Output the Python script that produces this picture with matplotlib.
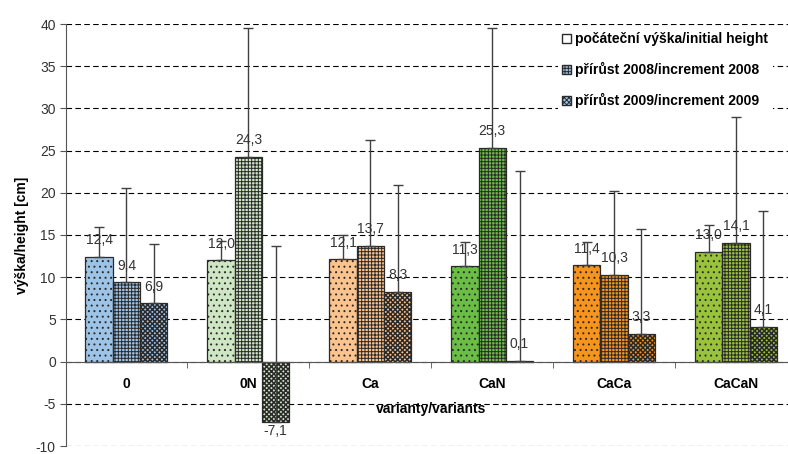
import numpy as np
import matplotlib
matplotlib.use("Agg")
import matplotlib.pyplot as plt
from matplotlib.patches import Patch

plt.rcParams['font.family'] = ['Liberation Sans', 'DejaVu Sans']
plt.rcParams['axes.unicode_minus'] = False

# data
variants = ["0", "0N", "Ca", "CaN", "CaCa", "CaCaN"]
initial_height = [12.4, 12.0, 12.1, 11.3, 11.4, 13.0]
increment_2008 = [9.4, 24.3, 13.7, 25.3, 10.3, 14.1]
increment_2009 = [6.9, -7.1, 8.3, 0.1, 3.3, 4.1]
err_initial = [3.5, 2.3, 2.9, 2.9, 2.8, 3.2]
err_2008 = [11.2, 15.2, 12.6, 14.2, 9.9, 14.9]
err_2009 = [7.0, 20.8, 12.6, 22.5, 12.4, 13.8]
series_names = ["počáteční výška/initial height",
                "přírůst 2008/increment 2008",
                "přírůst 2009/increment 2009"]

group_colors = ["#9DC3E6", "#CFE6C4", "#FBC38E", "#6BBE45", "#F7941D", "#9AC33C"]
hatches = ["...", "+++++", "xxxxxxx"]
hatch_lw = [0.7, 0.7, 1.1]
FS = 10

fig = plt.figure(figsize=(7.88, 4.54), dpi=100)
ax = fig.add_axes([65.5/788, 8/454, (797-65.5)/788, 422/454])

x = np.arange(len(variants))
w = 0.224
series = [initial_height, increment_2008, increment_2009]
errs = [err_initial, err_2008, err_2009]

for i, (vals, err) in enumerate(zip(series, errs)):
    xs = x + (i - 1) * w
    plt.rcParams['hatch.linewidth'] = hatch_lw[i]
    ax.bar(xs, vals, w, color=group_colors, edgecolor="#2a2a2a",
           linewidth=0.9, hatch=hatches[i], zorder=2)
    ax.errorbar(xs, vals, yerr=[np.zeros(len(vals)), err], fmt="none",
                ecolor="#404040", elinewidth=1, capsize=3.5, capthick=1, zorder=3)
    for xi, v in zip(xs, vals):
        lbl = f"{v:.1f}".replace(".", ",")
        off = 12 if v >= 0 else -7
        ax.annotate(lbl, (xi, v), xytext=(0, off), textcoords="offset points",
                    ha="center", va="center", fontsize=FS, color="#333333", zorder=4)

ax.set_xlim(-0.5, 5.5)
ax.set_ylim(-10, 40)
ax.set_yticks(np.arange(-10, 41, 5))
ax.yaxis.grid(True, linestyle=(0, (5, 3)), color="black", linewidth=0.8, zorder=0)

ax.spines["top"].set_visible(False)
ax.spines["right"].set_visible(False)
ax.spines["bottom"].set_position(("data", 0))
ax.spines["bottom"].set_color("#555555")
ax.spines["left"].set_color("#555555")
ax.spines["bottom"].set_zorder(3)

ax.set_xticks(x)
ax.set_xticklabels(variants, fontweight="bold", fontsize=FS)
ax.set_xticks(np.arange(-0.5, 6.0, 1), minor=True)
ax.tick_params(axis="x", which="major", length=0, pad=11)
ax.tick_params(axis="x", which="minor", length=4, direction="out", color="#555555")
ax.tick_params(axis="y", length=4, direction="out", color="#555555",
               labelsize=FS, labelcolor="#333333", pad=3)

ax.set_xlabel("varianty/variants", fontweight="bold", fontsize=FS, labelpad=8,
              bbox=dict(facecolor="white", edgecolor="none", pad=1))
ax.set_ylabel("výška/height [cm]", fontweight="bold", fontsize=FS, labelpad=5)

plt.rcParams['hatch.linewidth'] = 0.7
handles = [Patch(facecolor="white", edgecolor="#2a2a2a", hatch=""),
           Patch(facecolor="#9DC3E6", edgecolor="#2a2a2a", hatch="+++++"),
           Patch(facecolor="#9DC3E6", edgecolor="#2a2a2a", hatch="xxxxxxx")]
leg = ax.legend(handles, series_names, loc="upper left",
                bbox_to_anchor=(558/788, 1 - 28/454), bbox_transform=fig.transFigure,
                frameon=True, edgecolor="none", facecolor="white", framealpha=1,
                handlelength=0.6, handleheight=0.6, handletextpad=0.35,
                labelspacing=1.15, borderpad=0.3, borderaxespad=0,
                prop={"weight": "bold", "size": FS})
leg.set_zorder(5)

fig.savefig("out.png", dpi=100)
